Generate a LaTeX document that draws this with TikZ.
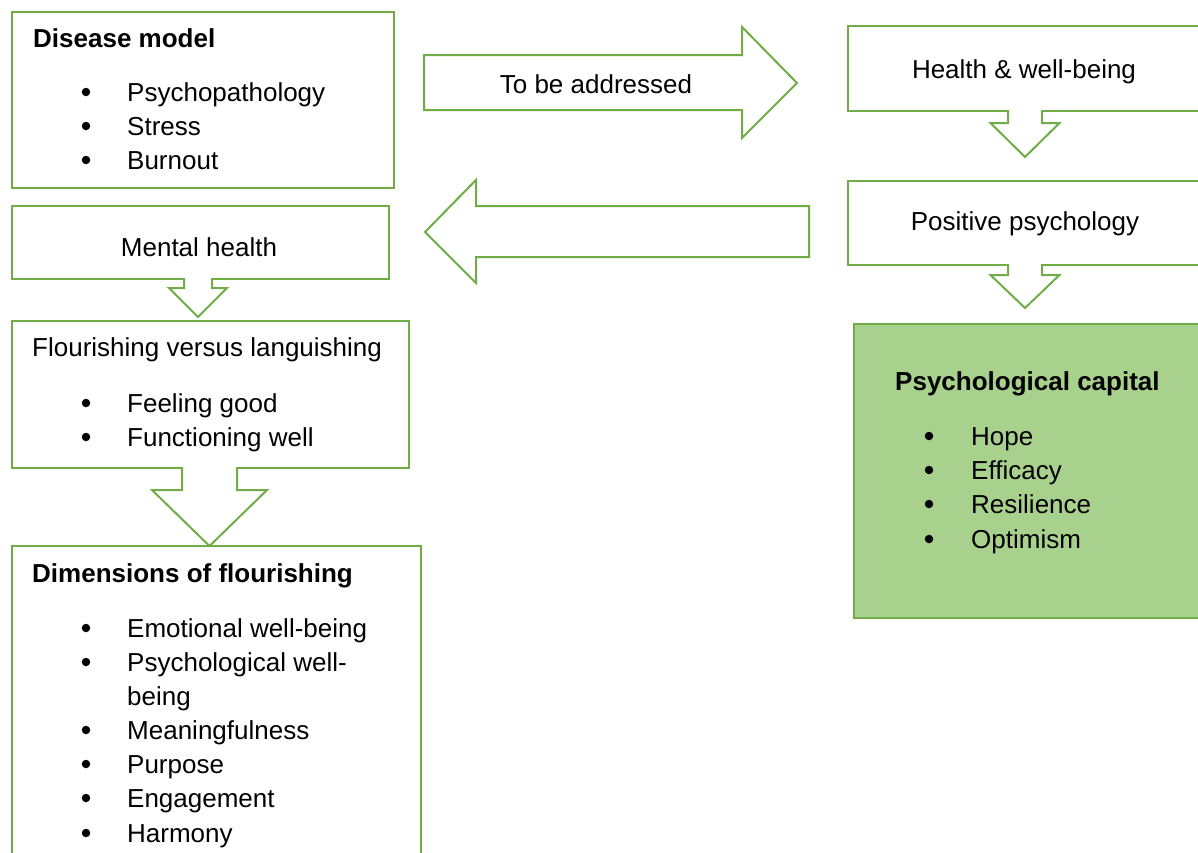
\documentclass[tikz,border=0pt]{standalone}
\usepackage{fontspec}
\setmainfont{Liberation Sans}
\usetikzlibrary{calc}
\definecolor{leaf}{HTML}{70AD47}
\definecolor{leaffill}{HTML}{A9D18E}
\tikzset{
  box/.style={draw=leaf, line width=2pt, inner sep=0pt, anchor=north west, fill=white},
  blk/.style={draw=leaf, line width=2pt, fill=white, line join=miter},
  txt/.style={anchor=base west, inner sep=0pt, font=\fontsize{26}{34}\selectfont},
  ctxt/.style={anchor=base, inner sep=0pt, font=\fontsize{26}{34}\selectfont},
  bul/.style={circle, fill=black, inner sep=0pt, minimum size=8.5pt},
}
% downward block arrow: centre x, stem top, stem half-width, stem bottom, head half-width, tip y
\newcommand\blkdown[6]{%
  \draw[blk] (#1-#3,#2) -- (#1-#3,#4) -- (#1-#5,#4) -- (#1,#6) -- (#1+#5,#4)
    -- (#1+#3,#4) -- (#1+#3,#2);}
\begin{document}
\begin{tikzpicture}[x=1pt,y=-1pt]
\useasboundingbox (0,0) rectangle (1198,852);
\clip (0,0) rectangle (1198,852);
\fill[white] (0,0) rectangle (1198,852);

% left column
\node[box, minimum width=382pt, minimum height=176pt] (disease) at (11,11) {};
\node[txt] (disT) at (33,47) {\bfseries Disease model};
\node[bul] (b1) at (86,92) {};
\node[txt] (d1) at (127,101) {Psychopathology};
\node[bul] (b2) at (86,126) {};
\node[txt] (d2) at (127,135) {Stress};
\node[bul] (b3) at (86,160) {};
\node[txt] (d3) at (127,169) {Burnout};

\node[box, minimum width=377pt, minimum height=73pt] (mental) at (11,205) {};
\node[ctxt] (menT) at (199,256) {Mental health};

\node[box, minimum width=397pt, minimum height=147pt] (flour) at (11,320) {};
\node[txt] (floT) at (32,356) {Flourishing versus languishing};
\node[bul] (b4) at (86,403) {};
\node[txt] (f1) at (127,412) {Feeling good};
\node[bul] (b5) at (86,437) {};
\node[txt] (f2) at (127,446) {Functioning well};

\node[box, minimum width=409pt, minimum height=330pt] (dims) at (11,545) {};
\node[txt] (dimT) at (32,582) {\bfseries Dimensions of flourishing};
\node[bul] (b6) at (86,628) {};
\node[txt] (m1) at (127,637) {Emotional well-being};
\node[bul] (b7) at (86,662) {};
\node[txt] (m2) at (127,671) {Psychological well-};
\node[txt] (m2b) at (127,705) {being};
\node[bul] (b8) at (86,730) {};
\node[txt] (m3) at (127,739) {Meaningfulness};
\node[bul] (b9) at (86,764) {};
\node[txt] (m4) at (127,773) {Purpose};
\node[bul] (b10) at (86,798) {};
\node[txt] (m5) at (127,807) {Engagement};
\node[bul] (b11) at (86,833) {};
\node[txt] (m6) at (127,842) {Harmony};

% right column
\node[box, minimum width=360pt, minimum height=85pt] (health) at (847,25) {};
\node[ctxt] (heaT) at (1024,78) {Health \& well-being};

\node[box, minimum width=360pt, minimum height=84pt] (pos) at (847,180) {};
\node[ctxt] (posT) at (1025,230) {Positive psychology};

\node[box, fill=leaffill, minimum width=360pt, minimum height=294pt] (capital) at (853,323) {};
\node[txt] (capT) at (895,390) {\bfseries Psychological capital};
\node[bul] (b12) at (929,436) {};
\node[txt] (c1) at (971,445) {Hope};
\node[bul] (b13) at (929,470) {};
\node[txt] (c2) at (971,479) {Efficacy};
\node[bul] (b14) at (929,504) {};
\node[txt] (c3) at (971,513) {Resilience};
\node[bul] (b15) at (929,539) {};
\node[txt] (c4) at (971,548) {Optimism};

% horizontal block arrows between the columns
\draw[blk] (424,55) -- (742,55) -- (742,27) -- (797,83) -- (742,138)
  -- (742,110) -- (424,110) -- cycle;
\node[ctxt] (addr) at (596,93) {To be addressed};
\draw[blk] (809,206) -- (476,206) -- (476,180) -- (425,232) -- (476,283)
  -- (476,257) -- (809,257) -- cycle;

% downward block arrows
\blkdown{1025}{110}{17}{123}{34.5}{157}
\blkdown{1025}{264}{17}{275}{34.5}{308}
\blkdown{198}{278}{14}{288}{29}{317}
\blkdown{209.5}{467}{27.5}{490}{57.5}{546}
\end{tikzpicture}
\end{document}
